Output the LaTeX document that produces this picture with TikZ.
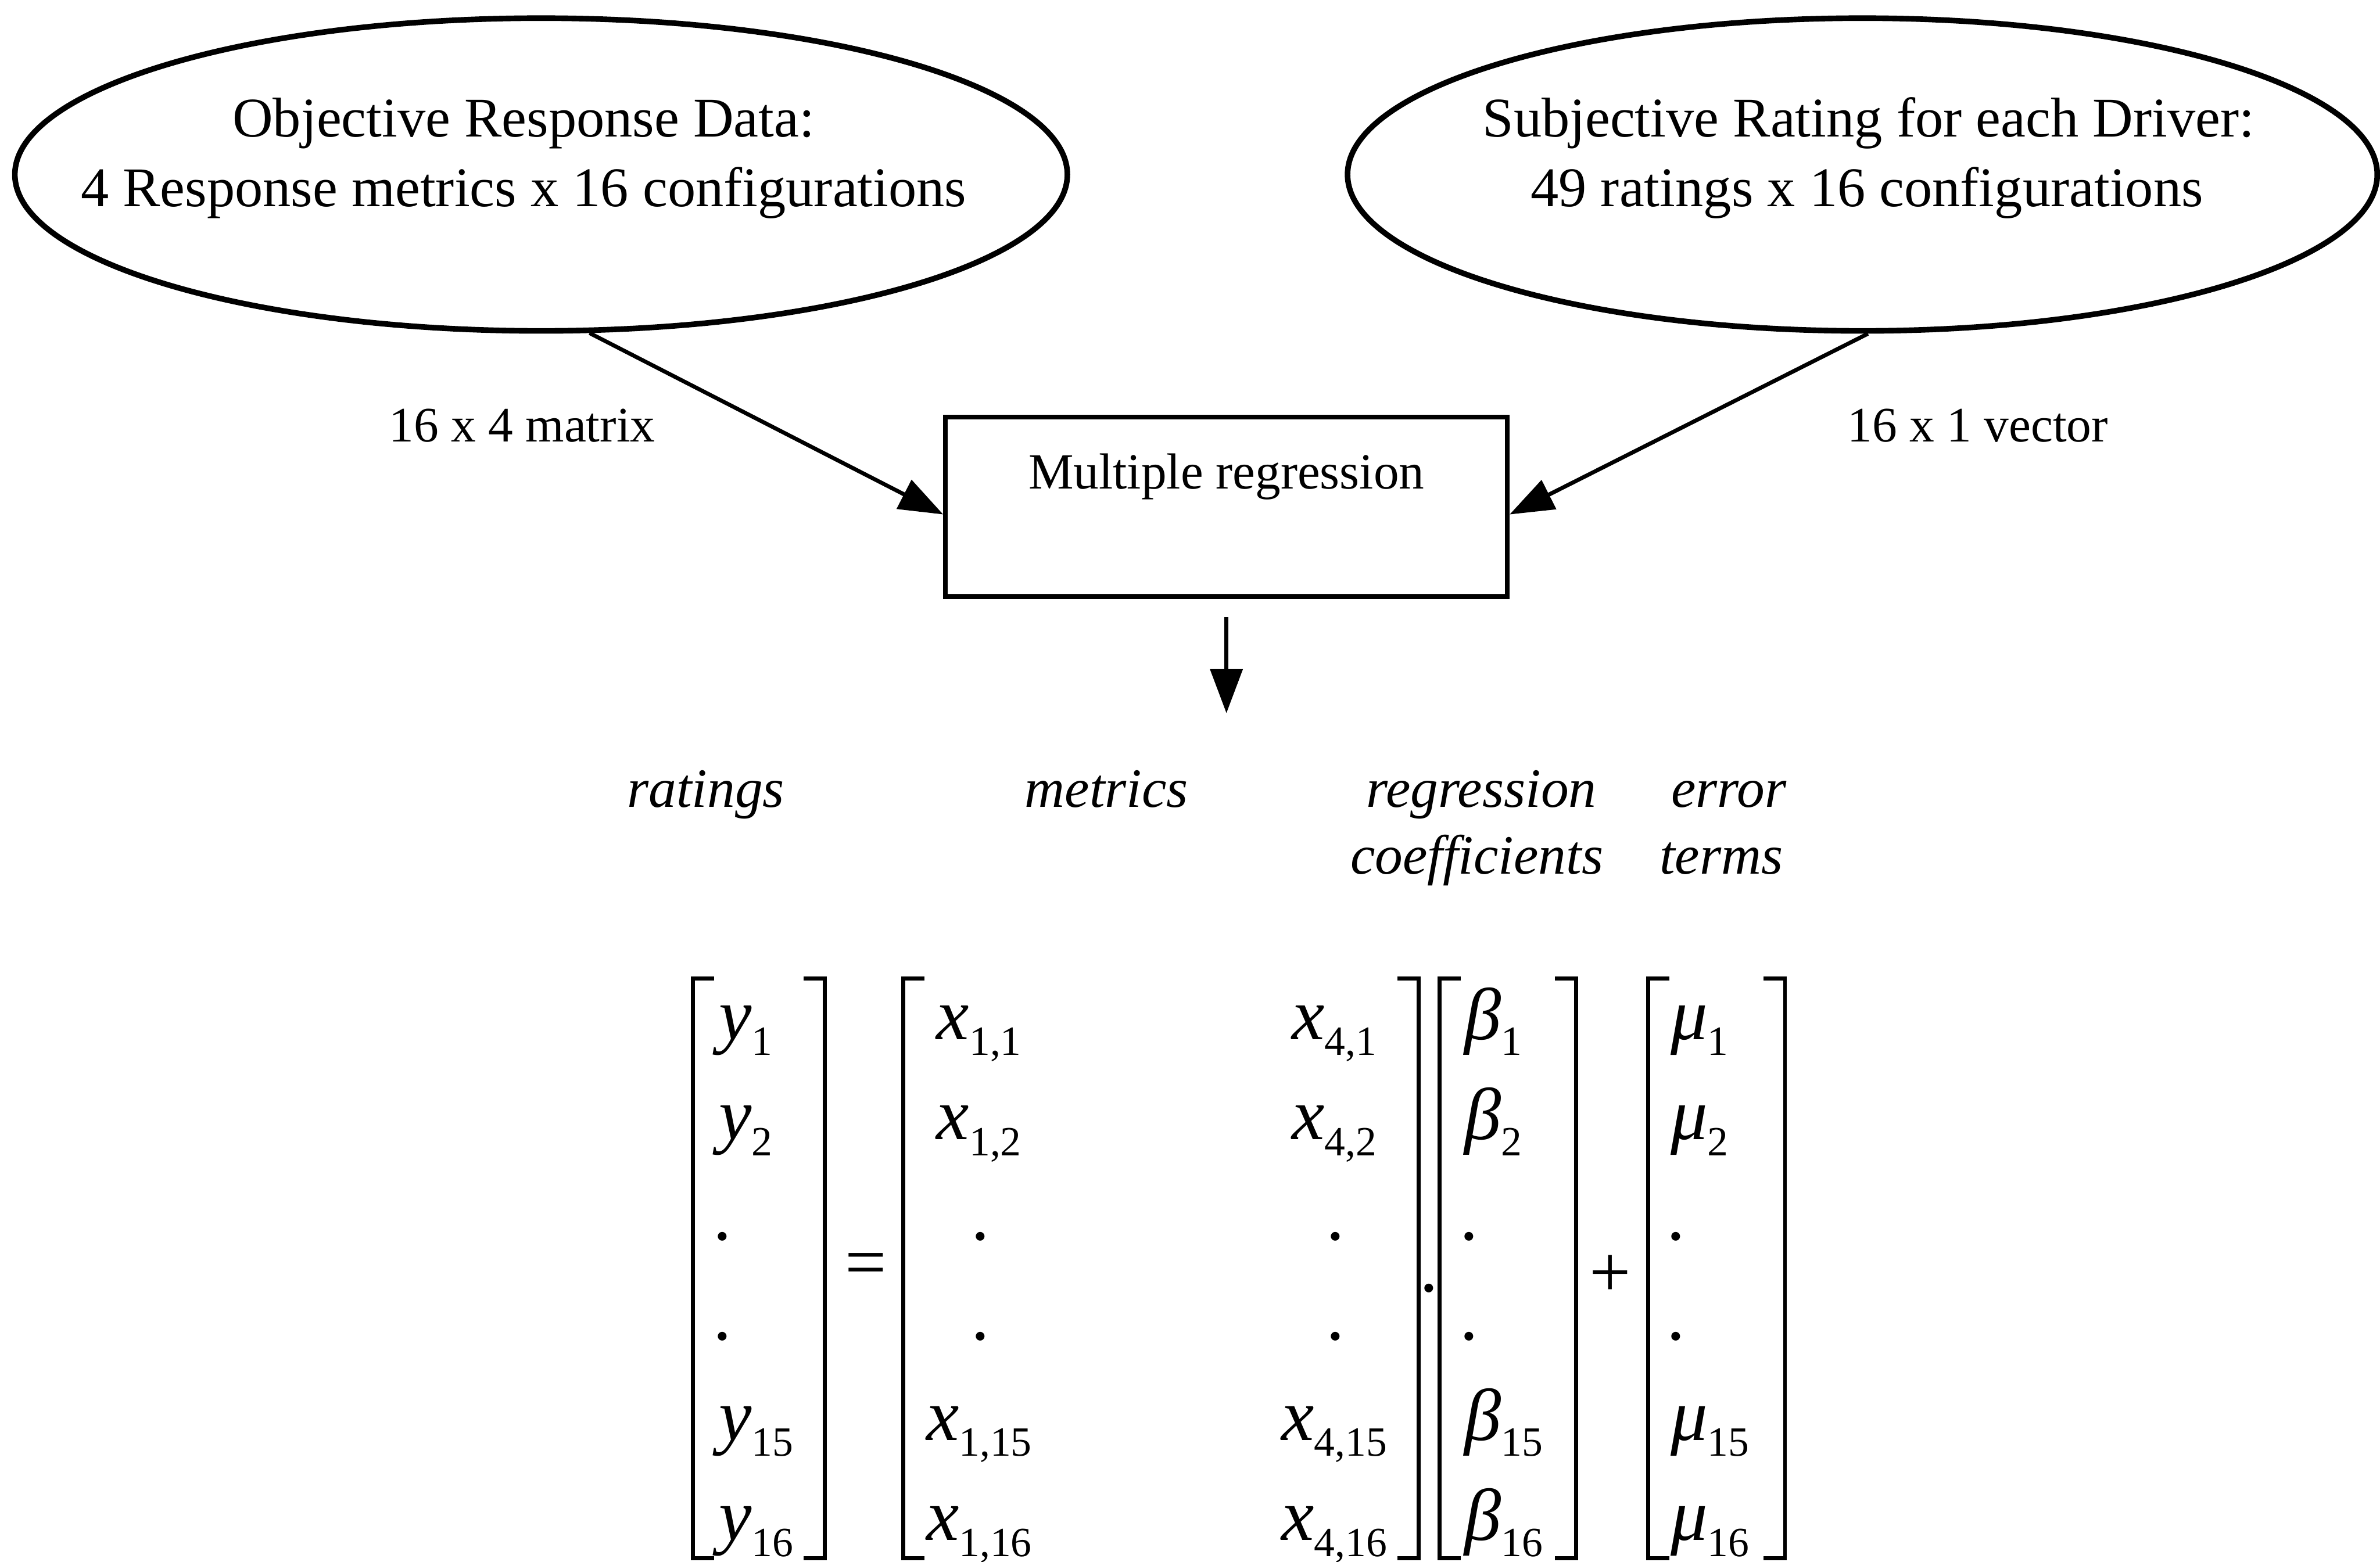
\documentclass[tikz,border=0pt]{standalone}
\usepackage{fontspec}
\setmainfont{Liberation Serif}
\usetikzlibrary{arrows.meta,shapes.geometric,calc}
\newcommand{\efont}{\fontsize{13.8}{15}\selectfont}
\newcommand{\sbfont}{\fontsize{7.8}{8}\selectfont}
\newcommand{\ent}[2]{{\efont\itshape #1}\raisebox{-3pt}{\sbfont #2}}
\newcommand{\edot}{{\efont .}}
\begin{document}
\begin{tikzpicture}[x=0.01cm,y=-0.01cm,
  ell/.style={draw, ellipse, line width=1.05pt, inner sep=0pt, minimum height=2.06cm},
  regbox/.style={draw, rectangle, line width=0.85pt, minimum width=3.7cm, minimum height=1.18cm, inner sep=0pt},
  conn/.style={line width=0.75pt, -{Triangle[length=0.29cm,width=0.21cm]}},
  ttl/.style={font=\fontsize{10.5}{13}\selectfont, anchor=base, inner sep=0pt},
  lbl/.style={font=\fontsize{9.3}{11}\selectfont, anchor=base, inner sep=0pt},
  itl/.style={font=\fontsize{10.4}{12}\selectfont\itshape, anchor=base, inner sep=0pt},
  entry/.style={inner sep=0pt},
  brk/.style={line width=0.75pt}]
\useasboundingbox (0,0) rectangle (1568,1029);

% ellipses
\node[ell, minimum width=6.93cm] (OBJ) at (356.5,115) {};
\node[ell, minimum width=6.78cm] (SUB) at (1227,115) {};
\node[ttl] (o1) at (345,90) {Objective Response Data:};
\node[ttl] (o2) at (345,136) {4 Response metrics x 16 configurations};
\node[ttl] (s1) at (1231,90) {Subjective Rating for each Driver:};
\node[ttl] (s2) at (1230,136) {49 ratings x 16 configurations};

% regression box
\node[regbox] (MR) at (808,334) {};
\node[font=\fontsize{9.5}{11}\selectfont, anchor=base, inner sep=0pt] (mrt) at (808,322) {Multiple regression};

\node[lbl] (l1) at (344,291) {16 x 4 matrix};
\node[lbl] (l2) at (1303,291) {16 x 1 vector};

\draw[conn] (OBJ.-73) -- ($(MR.west)+(0,5)$);
\draw[conn] (SUB.-88) -- ($(MR.east)+(0,5)$);
\coordinate (DA) at (808,470);
\draw[conn] ($(MR.south)+(0,12)$) -- (DA);

% italic headings
\node[itl] (lr) at (465,532) {ratings};
\node[itl] (lm) at (729,532) {metrics};
\node[itl] (lc1) at (976,532) {regression};
\node[itl] (lc2) at (973,576) {coefficients};
\node[itl] (le1) at (1139,532) {error};
\node[itl] (le2) at (1134,576) {terms};

% brackets
\foreach \bx in {456.5,595,948.5,1086}
  \draw[brk] (\bx+14,645) -- (\bx,645) -- (\bx,1027) -- (\bx+14,1027);
\foreach \bx in {543.5,934.5,1038.5,1176}
  \draw[brk] (\bx-14,645) -- (\bx,645) -- (\bx,1027) -- (\bx-14,1027);

% operators
\node[entry, font=\efont] (eq) at (570.6,837) {=};
\node[entry, font=\efont, anchor=base] (mul) at (941.5,851) {.};
\node[entry, font=\efont] (pl) at (1061,841) {+};

% entries
\foreach \i/\s/\yy in {1/1/685, 2/2/751, 5/15/949, 6/16/1015} {
  \node[entry, anchor=base west] (y\i) at (473,\yy) {\ent{y}{\s}};
  \node[entry, anchor=base] (xa\i) at (645,\yy) {\ent{x}{1,\s}};
  \node[entry, anchor=base] (xd\i) at (879,\yy) {\ent{x}{4,\s}};
  \node[entry, anchor=base west] (b\i) at (964,\yy) {\ent{β}{\s}};
  \node[entry, anchor=base west] (m\i) at (1100,\yy) {\ent{μ}{\s}};
}
\foreach \i/\yy in {3/817, 4/883} {
  \node[entry, anchor=base] (y\i) at (476,\yy) {\edot};
  \node[entry, anchor=base] (xa\i) at (646,\yy) {\edot};
  \node[entry, anchor=base] (xd\i) at (880,\yy) {\edot};
  \node[entry, anchor=base] (b\i) at (968,\yy) {\edot};
  \node[entry, anchor=base] (m\i) at (1104,\yy) {\edot};
}
\end{tikzpicture}
\end{document}
